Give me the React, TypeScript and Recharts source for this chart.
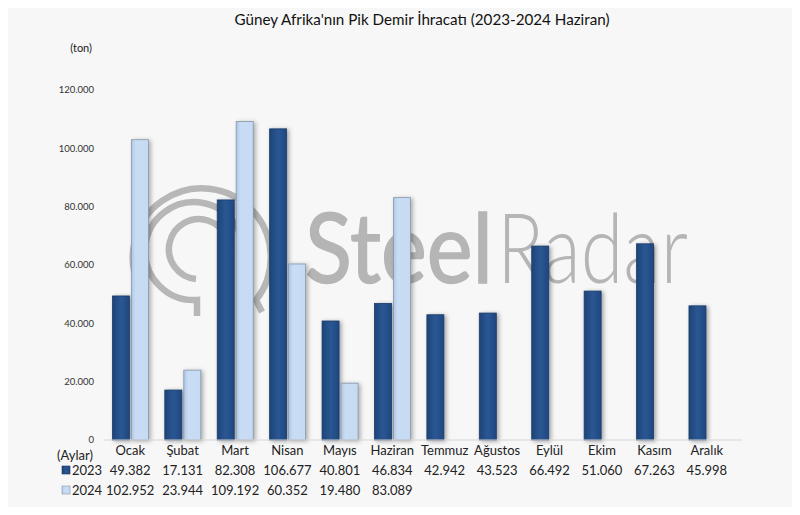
import React from 'react';
import { BarChart, Bar, XAxis, YAxis } from 'recharts';

const months = ['Ocak', 'Şubat', 'Mart', 'Nisan', 'Mayıs', 'Haziran', 'Temmuz', 'Ağustos', 'Eylül', 'Ekim', 'Kasım', 'Aralık'];
const exports2023 = [49382, 17131, 82308, 106677, 40801, 46834, 42942, 43523, 66492, 51060, 67263, 45998];
const exports2024: (number | null)[] = [102952, 23944, 109192, 60352, 19480, 83089, null, null, null, null, null, null];
const yTicks = [0, 20000, 40000, 60000, 80000, 100000, 120000];
const seriesNames = ['2023', '2024'];
const title = "Güney Afrika'nın Pik Demir İhracatı (2023-2024 Haziran)";

const data = months.map((m, i) => ({ month: m, y2023: exports2023[i], y2024: exports2024[i] }));

const fmt = (n: number) => n.toString().replace(/\B(?=(\d{3})+(?!\d))/g, '.');

const FONT = 'Lato, "Open Sans", sans-serif';

const DarkBar = (props: any) => {
  const { x, y, width, height } = props;
  if (!height || height <= 0) return null;
  return (
    <rect x={x} y={y} width={width} height={height} fill="url(#gDark)" stroke="#1a3c6a" strokeWidth={0.8}
      style={{ filter: 'drop-shadow(2px 1px 2px rgba(0,0,0,0.35))' }} />
  );
};

const LightBar = (props: any) => {
  const { x, y, width, height } = props;
  if (!height || height <= 0) return null;
  return (
    <rect x={x} y={y} width={width} height={height} fill="url(#gLight)" stroke="#8797a9" strokeWidth={0.8}
      style={{ filter: 'drop-shadow(2px 1px 2px rgba(0,0,0,0.3))' }} />
  );
};

const MonthTick = (props: any) => {
  const { x, y, payload } = props;
  const i = months.indexOf(payload.value);
  const v23 = exports2023[i];
  const v24 = exports2024[i];
  return (
    <g fontFamily={FONT} fontSize={13} fill="#222" textAnchor="middle">
      <text x={x} y={y + 15} fill="#222">{payload.value}</text>
      <text x={x} y={y + 35} fill="#222">{fmt(v23)}</text>
      {v24 != null && <text x={x} y={y + 55} fill="#222">{fmt(v24)}</text>}
    </g>
  );
};

const Background = () => (
  <svg width={800} height={515} style={{ position: 'absolute', left: 0, top: 0 }}>
    <defs>
      <linearGradient id="gDark" x1="0" y1="0" x2="1" y2="0">
        <stop offset="0%" stopColor="#1d4478" />
        <stop offset="50%" stopColor="#2a5793" />
        <stop offset="100%" stopColor="#1f4780" />
      </linearGradient>
      <linearGradient id="gLight" x1="0" y1="0" x2="1" y2="0">
        <stop offset="0%" stopColor="#aec6e4" />
        <stop offset="25%" stopColor="#c8dcf4" />
        <stop offset="100%" stopColor="#c6daf3" />
      </linearGradient>
    </defs>
    <rect x={0} y={0} width={800} height={515} fill="#f7f7f7" />
    {/* watermark logo */}
    <g fill="none" stroke="#b7b7b7" strokeWidth={6.5}>
      <path d="M 140 288 A 69 69 0 1 1 256 300 L 262 312" />
      <path d="M 197 316 L 197 300 A 49 49 0 1 1 240 268" />
      <path d="M 196 279 A 30 30 0 1 1 226 262" />
    </g>
    <text x={305} y={283} fontFamily={FONT} fontSize={96} fill="#b5b5b5" fontWeight={400}
      stroke="#b5b5b5" strokeWidth={1.5}
      textLength={188} lengthAdjust="spacingAndGlyphs">Steel</text>
    <text x={497} y={283} fontFamily={FONT} fontSize={96} fill="#b5b5b5" fontWeight={300}
      textLength={191} lengthAdjust="spacingAndGlyphs">Radar</text>
    {/* title and labels */}
    <text x={422} y={25} textAnchor="middle" fontFamily={FONT} fontSize={15.2} fill="#111">{title}</text>
    <text x={92} y={52} textAnchor="end" fontFamily={FONT} fontSize={11} fill="#222">(ton)</text>
    <text x={57} y={460} fontFamily={FONT} fontSize={13} fill="#222">(Aylar)</text>
    <rect x={62} y={466} width={8} height={8} fill="url(#gDark)" stroke="#1a3c6a" strokeWidth={0.6} />
    <text x={72} y={475} fontFamily={FONT} fontSize={13} fill="#222">{seriesNames[0]}</text>
    <rect x={62} y={486} width={8} height={8} fill="url(#gLight)" stroke="#8797a9" strokeWidth={0.6} />
    <text x={72} y={495} fontFamily={FONT} fontSize={13} fill="#222">{seriesNames[1]}</text>
  </svg>
);

export default function App() {
  return (
    <div style={{ margin: -8, position: 'relative', width: 800, height: 515, overflow: 'hidden' }}>
      <Background />
      <div style={{ position: 'absolute', left: 0, top: 0 }}>
        <BarChart width={800} height={515} data={data}
          margin={{ top: 90, right: 58, bottom: 45, left: 0 }}
          barCategoryGap="16%" barGap={2}>
          <YAxis width={104} domain={[0, 120000]} ticks={yTicks} axisLine={false} tickLine={false}
            tickSize={6} tickMargin={4} tickFormatter={fmt}
            tick={{ fontSize: 9.5, fill: '#333', fontFamily: FONT }} interval={0} />
          <XAxis dataKey="month" height={30} axisLine={{ stroke: '#d6d6d6' }} tickLine={false} tickSize={0} tickMargin={0}
            padding={{ left: 0, right: 9 }} interval={0} tick={<MonthTick />} />
          <Bar dataKey="y2023" name={seriesNames[0]} shape={<DarkBar />} isAnimationActive={false} />
          <Bar dataKey="y2024" name={seriesNames[1]} shape={<LightBar />} isAnimationActive={false} />
        </BarChart>
      </div>
      <div style={{ position: 'absolute', left: 0, top: 0, width: 800, height: 515, boxSizing: 'border-box', border: '2px solid #d9d9d9', pointerEvents: 'none' }} />
    </div>
  );
}
